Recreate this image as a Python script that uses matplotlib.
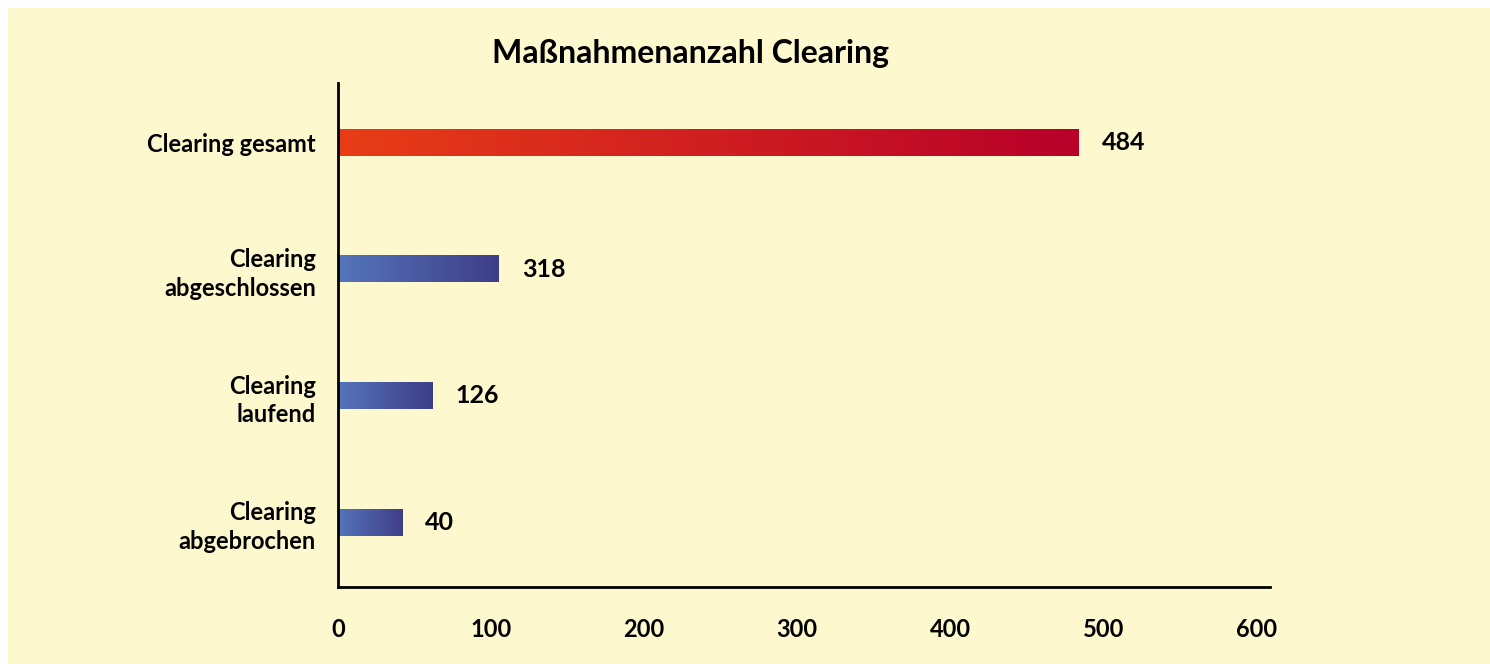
import numpy as np
import matplotlib
matplotlib.use("Agg")
import matplotlib.pyplot as plt
from matplotlib.colors import LinearSegmentedColormap
from matplotlib.patches import Rectangle

# data (bar lengths differ from the printed numbers)
categories = ["Clearing gesamt", "Clearing\nabgeschlossen", "Clearing\nlaufend", "Clearing\nabgebrochen"]
bar_lengths = [484, 105, 62, 42]
value_labels = ["484", "318", "126", "40"]
xticks = [0, 100, 200, 300, 400, 500, 600]

plt.rcParams['font.family'] = ['Lato', 'DejaVu Sans']
plt.rcParams['font.weight'] = 'bold'

BG = "#FEF8CE"
red_cm = LinearSegmentedColormap.from_list("r", ["#E83D17", "#B8002A"])
blue_cm = LinearSegmentedColormap.from_list("b", ["#5575BA", "#3E3E88"])

fig = plt.figure(figsize=(14.9, 6.64), dpi=100)
fig.patch.set_facecolor("white")
fig.patches.append(Rectangle((8 / 1490, 0), 1 - 8 / 1490, 1 - 8 / 664,
                             transform=fig.transFigure, facecolor=BG,
                             edgecolor="none", zorder=-10))

ax = fig.add_axes([338 / 1490, 77 / 664, (1270 - 338) / 1490, (587 - 83) / 664])
ax.set_facecolor("none")

ypos = np.arange(len(categories))
bars = ax.barh(ypos, bar_lengths, height=0.21, color="none", edgecolor="none")

# gradient fill for each bar
grad = np.linspace(0, 1, 256).reshape(1, -1)
for i, b in enumerate(bars):
    cm = red_cm if i == 0 else blue_cm
    x0, y0, w, h = b.get_x(), b.get_y(), b.get_width(), b.get_height()
    ax.imshow(grad, cmap=cm, aspect="auto", extent=(x0, x0 + w, y0, y0 + h),
              interpolation="bilinear", zorder=2)
    ax.text(x0 + w + 15, ypos[i], value_labels[i], va="center", ha="left",
            fontsize=18, fontweight="bold")

ax.set_xlim(0, 609)
ax.set_ylim(len(categories) - 1 + 0.51, -0.47)
ax.set_xticks(xticks)
ax.set_xticklabels([str(t) for t in xticks], fontsize=17, fontweight="bold")
ax.set_yticks(ypos)
ax.set_yticklabels(categories, fontsize=17, fontweight="bold", linespacing=1.3)
ax.tick_params(axis="both", length=0)
ax.tick_params(axis="x", pad=22)
ax.tick_params(axis="y", pad=16)
for s in ["top", "right"]:
    ax.spines[s].set_visible(False)
for s in ["left", "bottom"]:
    ax.spines[s].set_linewidth(2)

fig.text(690 / 1490, 1 - 53 / 664, "Maßnahmenanzahl Clearing", ha="center",
         va="center", fontsize=23, fontweight="bold")

fig.savefig("out.png", dpi=100)
